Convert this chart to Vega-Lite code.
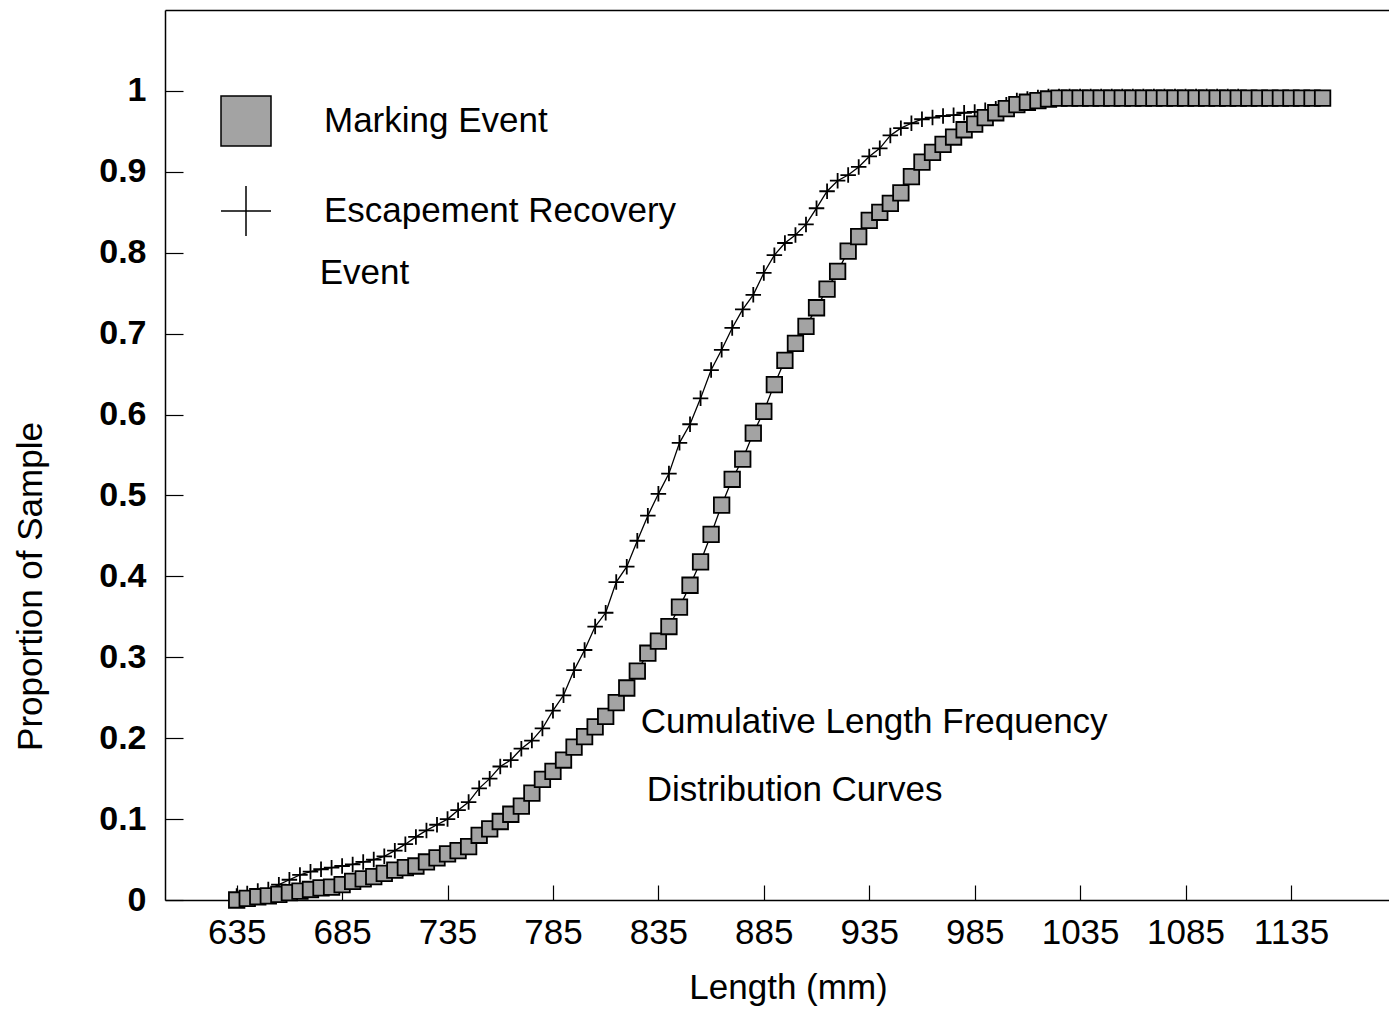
{
  "$schema": "https://vega.github.io/schema/vega-lite/v6.json",
  "width": 1224,
  "height": 890,
  "autosize": {"type": "none"},
  "padding": {"left": 165, "top": 10, "right": 0, "bottom": 112},
  "background": "white",
  "config": {
    "view": {"stroke": null},
    "font": "Liberation Sans",
    "axis": {"grid": false, "domainColor": "black", "tickColor": "black", "labelColor": "black", "titleColor": "black"}
  },
  "datasets": {
    "curves": [
      {"L":635,"p":0.005,"series":"Escapement Recovery"},{"L":640,"p":0.008,"series":"Escapement Recovery"},{"L":645,"p":0.011,"series":"Escapement Recovery"},{"L":650,"p":0.013,"series":"Escapement Recovery"},{"L":655,"p":0.019,"series":"Escapement Recovery"},{"L":660,"p":0.025,"series":"Escapement Recovery"},{"L":665,"p":0.031,"series":"Escapement Recovery"},{"L":670,"p":0.035,"series":"Escapement Recovery"},{"L":675,"p":0.038,"series":"Escapement Recovery"},{"L":680,"p":0.04,"series":"Escapement Recovery"},{"L":685,"p":0.042,"series":"Escapement Recovery"},{"L":690,"p":0.044,"series":"Escapement Recovery"},{"L":695,"p":0.047,"series":"Escapement Recovery"},{"L":700,"p":0.05,"series":"Escapement Recovery"},{"L":705,"p":0.054,"series":"Escapement Recovery"},{"L":710,"p":0.061,"series":"Escapement Recovery"},{"L":715,"p":0.069,"series":"Escapement Recovery"},{"L":720,"p":0.078,"series":"Escapement Recovery"},{"L":725,"p":0.086,"series":"Escapement Recovery"},{"L":730,"p":0.093,"series":"Escapement Recovery"},{"L":735,"p":0.1,"series":"Escapement Recovery"},{"L":740,"p":0.111,"series":"Escapement Recovery"},{"L":745,"p":0.121,"series":"Escapement Recovery"},{"L":750,"p":0.138,"series":"Escapement Recovery"},{"L":755,"p":0.15,"series":"Escapement Recovery"},{"L":760,"p":0.165,"series":"Escapement Recovery"},{"L":765,"p":0.173,"series":"Escapement Recovery"},{"L":770,"p":0.187,"series":"Escapement Recovery"},{"L":775,"p":0.197,"series":"Escapement Recovery"},{"L":780,"p":0.212,"series":"Escapement Recovery"},{"L":785,"p":0.234,"series":"Escapement Recovery"},{"L":790,"p":0.253,"series":"Escapement Recovery"},{"L":795,"p":0.284,"series":"Escapement Recovery"},{"L":800,"p":0.309,"series":"Escapement Recovery"},{"L":805,"p":0.338,"series":"Escapement Recovery"},{"L":810,"p":0.355,"series":"Escapement Recovery"},{"L":815,"p":0.393,"series":"Escapement Recovery"},{"L":820,"p":0.412,"series":"Escapement Recovery"},{"L":825,"p":0.444,"series":"Escapement Recovery"},{"L":830,"p":0.475,"series":"Escapement Recovery"},{"L":835,"p":0.502,"series":"Escapement Recovery"},{"L":840,"p":0.527,"series":"Escapement Recovery"},{"L":845,"p":0.565,"series":"Escapement Recovery"},{"L":850,"p":0.588,"series":"Escapement Recovery"},{"L":855,"p":0.62,"series":"Escapement Recovery"},{"L":860,"p":0.655,"series":"Escapement Recovery"},{"L":865,"p":0.68,"series":"Escapement Recovery"},{"L":870,"p":0.707,"series":"Escapement Recovery"},{"L":875,"p":0.73,"series":"Escapement Recovery"},{"L":880,"p":0.748,"series":"Escapement Recovery"},{"L":885,"p":0.775,"series":"Escapement Recovery"},{"L":890,"p":0.797,"series":"Escapement Recovery"},{"L":895,"p":0.812,"series":"Escapement Recovery"},{"L":900,"p":0.822,"series":"Escapement Recovery"},{"L":905,"p":0.835,"series":"Escapement Recovery"},{"L":910,"p":0.855,"series":"Escapement Recovery"},{"L":915,"p":0.876,"series":"Escapement Recovery"},{"L":920,"p":0.889,"series":"Escapement Recovery"},{"L":925,"p":0.896,"series":"Escapement Recovery"},{"L":930,"p":0.906,"series":"Escapement Recovery"},{"L":935,"p":0.919,"series":"Escapement Recovery"},{"L":940,"p":0.929,"series":"Escapement Recovery"},{"L":945,"p":0.945,"series":"Escapement Recovery"},{"L":950,"p":0.954,"series":"Escapement Recovery"},{"L":955,"p":0.96,"series":"Escapement Recovery"},{"L":960,"p":0.965,"series":"Escapement Recovery"},{"L":965,"p":0.967,"series":"Escapement Recovery"},{"L":970,"p":0.969,"series":"Escapement Recovery"},{"L":975,"p":0.97,"series":"Escapement Recovery"},{"L":980,"p":0.973,"series":"Escapement Recovery"},{"L":985,"p":0.974,"series":"Escapement Recovery"},{"L":990,"p":0.976,"series":"Escapement Recovery"},{"L":995,"p":0.978,"series":"Escapement Recovery"},{"L":1000,"p":0.983,"series":"Escapement Recovery"},{"L":1005,"p":0.988,"series":"Escapement Recovery"},{"L":1010,"p":0.99,"series":"Escapement Recovery"},{"L":1015,"p":0.992,"series":"Escapement Recovery"},{"L":1020,"p":0.993,"series":"Escapement Recovery"},{"L":1025,"p":0.993,"series":"Escapement Recovery"},{"L":1030,"p":0.993,"series":"Escapement Recovery"},{"L":1035,"p":0.993,"series":"Escapement Recovery"},{"L":1040,"p":0.993,"series":"Escapement Recovery"},{"L":1045,"p":0.993,"series":"Escapement Recovery"},{"L":1050,"p":0.993,"series":"Escapement Recovery"},{"L":1055,"p":0.993,"series":"Escapement Recovery"},{"L":1060,"p":0.993,"series":"Escapement Recovery"},{"L":1065,"p":0.993,"series":"Escapement Recovery"},{"L":1070,"p":0.993,"series":"Escapement Recovery"},{"L":1075,"p":0.993,"series":"Escapement Recovery"},{"L":1080,"p":0.993,"series":"Escapement Recovery"},{"L":1085,"p":0.993,"series":"Escapement Recovery"},{"L":1090,"p":0.993,"series":"Escapement Recovery"},{"L":1095,"p":0.993,"series":"Escapement Recovery"},{"L":1100,"p":0.993,"series":"Escapement Recovery"},{"L":1105,"p":0.993,"series":"Escapement Recovery"},{"L":1110,"p":0.993,"series":"Escapement Recovery"},
      {"L":635,"p":0.0,"series":"Marking Event"},{"L":640,"p":0.002,"series":"Marking Event"},{"L":645,"p":0.004,"series":"Marking Event"},{"L":650,"p":0.005,"series":"Marking Event"},{"L":655,"p":0.007,"series":"Marking Event"},{"L":660,"p":0.009,"series":"Marking Event"},{"L":665,"p":0.011,"series":"Marking Event"},{"L":670,"p":0.013,"series":"Marking Event"},{"L":675,"p":0.015,"series":"Marking Event"},{"L":680,"p":0.016,"series":"Marking Event"},{"L":685,"p":0.019,"series":"Marking Event"},{"L":690,"p":0.023,"series":"Marking Event"},{"L":695,"p":0.026,"series":"Marking Event"},{"L":700,"p":0.029,"series":"Marking Event"},{"L":705,"p":0.033,"series":"Marking Event"},{"L":710,"p":0.037,"series":"Marking Event"},{"L":715,"p":0.04,"series":"Marking Event"},{"L":720,"p":0.042,"series":"Marking Event"},{"L":725,"p":0.047,"series":"Marking Event"},{"L":730,"p":0.052,"series":"Marking Event"},{"L":735,"p":0.057,"series":"Marking Event"},{"L":740,"p":0.061,"series":"Marking Event"},{"L":745,"p":0.066,"series":"Marking Event"},{"L":750,"p":0.08,"series":"Marking Event"},{"L":755,"p":0.088,"series":"Marking Event"},{"L":760,"p":0.097,"series":"Marking Event"},{"L":765,"p":0.106,"series":"Marking Event"},{"L":770,"p":0.116,"series":"Marking Event"},{"L":775,"p":0.132,"series":"Marking Event"},{"L":780,"p":0.149,"series":"Marking Event"},{"L":785,"p":0.159,"series":"Marking Event"},{"L":790,"p":0.173,"series":"Marking Event"},{"L":795,"p":0.189,"series":"Marking Event"},{"L":800,"p":0.202,"series":"Marking Event"},{"L":805,"p":0.214,"series":"Marking Event"},{"L":810,"p":0.227,"series":"Marking Event"},{"L":815,"p":0.244,"series":"Marking Event"},{"L":820,"p":0.262,"series":"Marking Event"},{"L":825,"p":0.283,"series":"Marking Event"},{"L":830,"p":0.305,"series":"Marking Event"},{"L":835,"p":0.32,"series":"Marking Event"},{"L":840,"p":0.338,"series":"Marking Event"},{"L":845,"p":0.362,"series":"Marking Event"},{"L":850,"p":0.389,"series":"Marking Event"},{"L":855,"p":0.418,"series":"Marking Event"},{"L":860,"p":0.452,"series":"Marking Event"},{"L":865,"p":0.488,"series":"Marking Event"},{"L":870,"p":0.52,"series":"Marking Event"},{"L":875,"p":0.545,"series":"Marking Event"},{"L":880,"p":0.577,"series":"Marking Event"},{"L":885,"p":0.604,"series":"Marking Event"},{"L":890,"p":0.637,"series":"Marking Event"},{"L":895,"p":0.667,"series":"Marking Event"},{"L":900,"p":0.688,"series":"Marking Event"},{"L":905,"p":0.709,"series":"Marking Event"},{"L":910,"p":0.732,"series":"Marking Event"},{"L":915,"p":0.755,"series":"Marking Event"},{"L":920,"p":0.777,"series":"Marking Event"},{"L":925,"p":0.802,"series":"Marking Event"},{"L":930,"p":0.82,"series":"Marking Event"},{"L":935,"p":0.84,"series":"Marking Event"},{"L":940,"p":0.85,"series":"Marking Event"},{"L":945,"p":0.861,"series":"Marking Event"},{"L":950,"p":0.874,"series":"Marking Event"},{"L":955,"p":0.894,"series":"Marking Event"},{"L":960,"p":0.912,"series":"Marking Event"},{"L":965,"p":0.924,"series":"Marking Event"},{"L":970,"p":0.934,"series":"Marking Event"},{"L":975,"p":0.943,"series":"Marking Event"},{"L":980,"p":0.952,"series":"Marking Event"},{"L":985,"p":0.959,"series":"Marking Event"},{"L":990,"p":0.967,"series":"Marking Event"},{"L":995,"p":0.973,"series":"Marking Event"},{"L":1000,"p":0.978,"series":"Marking Event"},{"L":1005,"p":0.983,"series":"Marking Event"},{"L":1010,"p":0.986,"series":"Marking Event"},{"L":1015,"p":0.988,"series":"Marking Event"},{"L":1020,"p":0.99,"series":"Marking Event"},{"L":1025,"p":0.991,"series":"Marking Event"},{"L":1030,"p":0.991,"series":"Marking Event"},{"L":1035,"p":0.991,"series":"Marking Event"},{"L":1040,"p":0.991,"series":"Marking Event"},{"L":1045,"p":0.991,"series":"Marking Event"},{"L":1050,"p":0.991,"series":"Marking Event"},{"L":1055,"p":0.991,"series":"Marking Event"},{"L":1060,"p":0.991,"series":"Marking Event"},{"L":1065,"p":0.991,"series":"Marking Event"},{"L":1070,"p":0.991,"series":"Marking Event"},{"L":1075,"p":0.991,"series":"Marking Event"},{"L":1080,"p":0.991,"series":"Marking Event"},{"L":1085,"p":0.991,"series":"Marking Event"},{"L":1090,"p":0.991,"series":"Marking Event"},{"L":1095,"p":0.991,"series":"Marking Event"},{"L":1100,"p":0.991,"series":"Marking Event"},{"L":1105,"p":0.991,"series":"Marking Event"},{"L":1110,"p":0.991,"series":"Marking Event"},{"L":1115,"p":0.991,"series":"Marking Event"},{"L":1120,"p":0.991,"series":"Marking Event"},{"L":1125,"p":0.991,"series":"Marking Event"},{"L":1130,"p":0.991,"series":"Marking Event"},{"L":1135,"p":0.991,"series":"Marking Event"},{"L":1140,"p":0.991,"series":"Marking Event"},{"L":1145,"p":0.991,"series":"Marking Event"},{"L":1150,"p":0.991,"series":"Marking Event"}
    ],
    "notes": [
      {"L":826.6,"p":0.22,"label":"Cumulative Length Frequency"},
      {"L":829.5,"p":0.136,"label":"Distribution Curves"},
      {"L":674.4,"p":0.775,"label":"Event"}
    ]
  },
  "resolve": {"axis": {"x": "independent"}},
  "layer": [
    {
      "data": {"name": "curves"},
      "mark": {"type": "line", "color": "black", "strokeWidth": 1.3},
      "encoding": {
        "x": {"field": "L", "type": "quantitative",
          "scale": {"domain": [601, 1181.5], "nice": false, "zero": false},
          "axis": {"orient": "bottom", "values": [635,685,735,785,835,885,935,985,1035,1085,1135], "format": "d",
            "tickSize": -15, "labelPadding": 30, "labelFontSize": 35, "domainWidth": 1.5, "tickWidth": 1.2,
            "title": "Length (mm)", "titleFontSize": 35, "titleFontWeight": "normal", "titlePadding": 20, "titleX": 623}},
        "y": {"field": "p", "type": "quantitative",
          "scale": {"domain": [0, 1.1], "nice": false},
          "axis": {"values": [0,0.1,0.2,0.3,0.4,0.5,0.6,0.7,0.8,0.9,1], "format": "~g",
            "tickSize": -18, "labelPadding": 37, "labelFontSize": 34, "labelFontWeight": "bold", "domainWidth": 1.5, "tickWidth": 1.2,
            "title": "Proportion of Sample", "titleFontSize": 35, "titleFontWeight": "normal",
            "titleX": -135, "titleY": 576, "titleBaseline": "middle", "titleAlign": "center"}},
        "detail": {"field": "series"},
        "order": {"field": "L"}
      }
    },
    {
      "data": {"name": "curves"},
      "mark": {"type": "point", "filled": true, "fill": "#a3a3a3", "stroke": "black", "strokeWidth": 1.8, "opacity": 1},
      "encoding": {
        "x": {"field": "L", "type": "quantitative", "axis": null},
        "y": {"field": "p", "type": "quantitative"},
        "shape": {"field": "series", "type": "nominal",
          "scale": {"domain": ["Marking Event", "Escapement Recovery"], "range": ["square", "M-1,0H1M0,-1V1"]},
          "legend": {"orient": "none", "legendX": 55, "legendY": 85, "title": null, "padding": 0,
            "symbolSize": 2500, "labelFontSize": 35, "labelOffset": 52, "rowPadding": 34, "labelColor": "black", "labelLimit": 600,
            "encode": {"symbols": {"update": {"fill": {"value": "#8c8c8c"}, "stroke": {"value": "black"}, "strokeWidth": {"value": 1.3}, "opacity": {"value": 1}}}}}},
        "size": {"value": 240}
      }
    },
    {
      "data": {"name": "notes"},
      "mark": {"type": "text", "align": "left", "baseline": "middle", "fontSize": 35, "color": "black"},
      "encoding": {
        "x": {"field": "L", "type": "quantitative",
          "axis": {"orient": "top", "labels": false, "ticks": false, "title": null, "domainWidth": 1.5}},
        "y": {"field": "p", "type": "quantitative"},
        "text": {"field": "label"}
      }
    }
  ]
}
